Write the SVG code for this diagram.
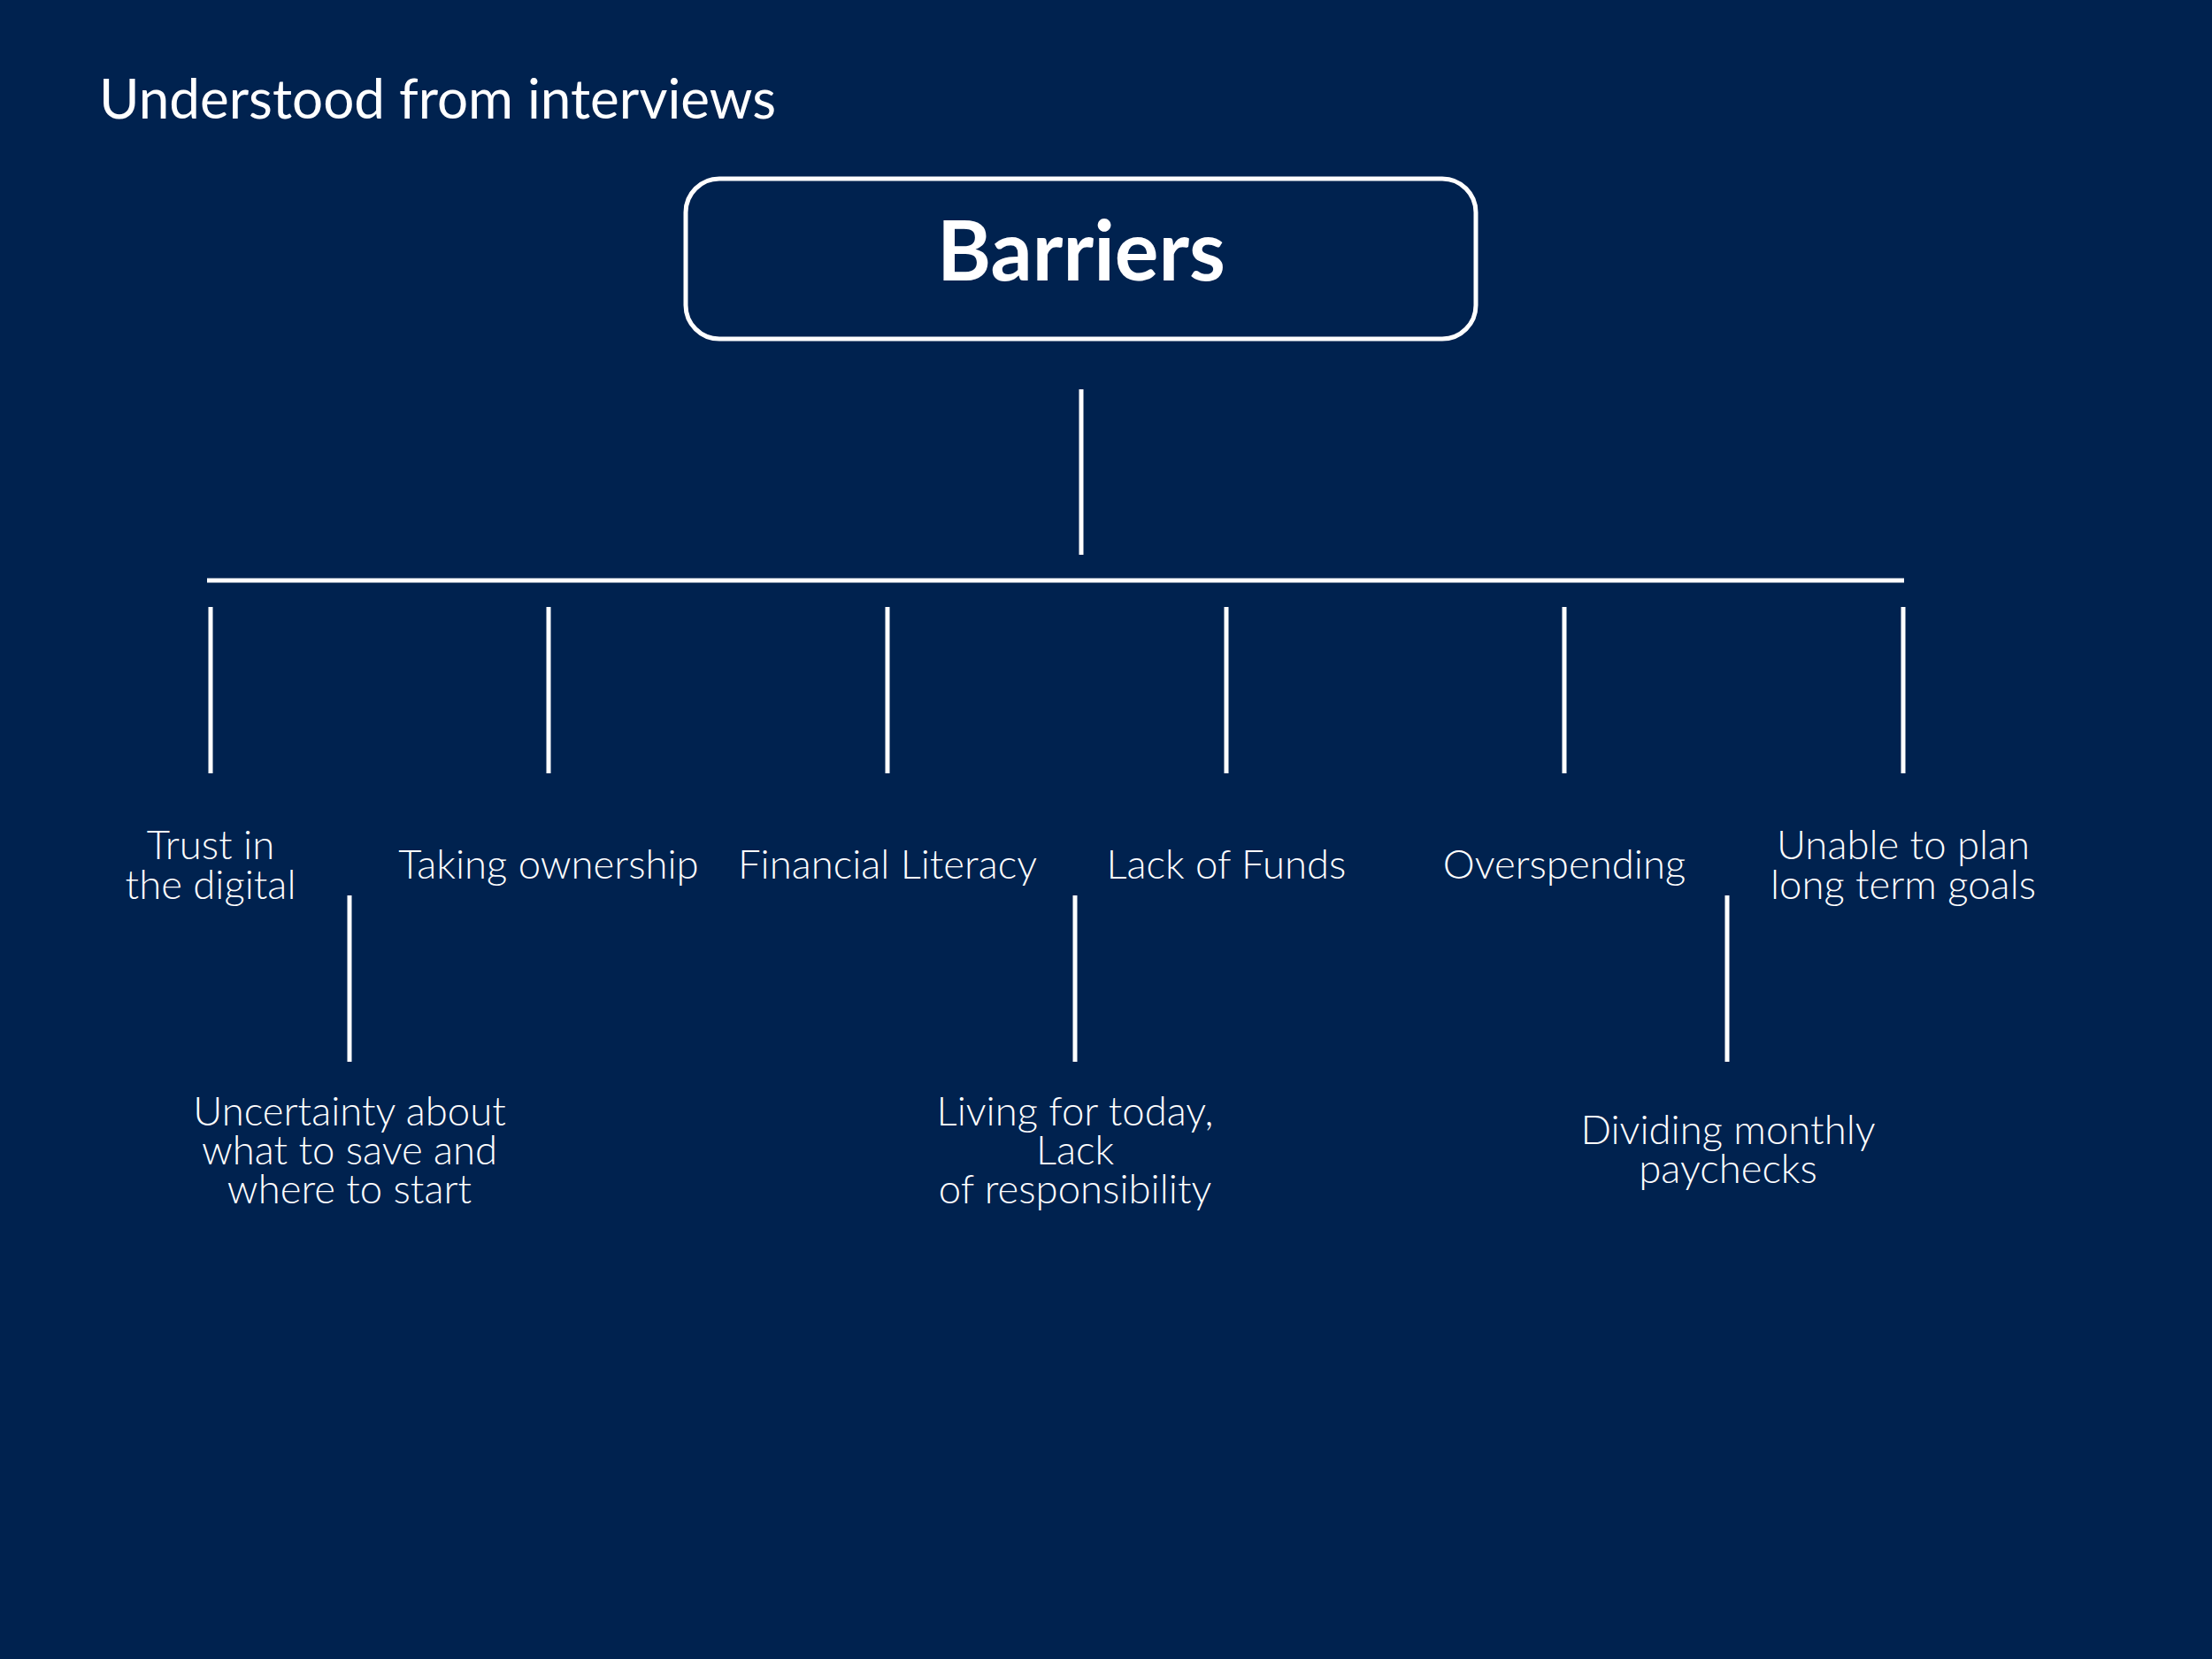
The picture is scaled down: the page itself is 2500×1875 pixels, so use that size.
<svg xmlns="http://www.w3.org/2000/svg" width="2500" height="1875" viewBox="0 0 2500 1875">
<style>
.lbl{font-family:Lato,"Open Sans","Liberation Sans",sans-serif;font-weight:300;font-size:45.5px;fill:#fff;text-anchor:middle}
.ln{stroke:#fff;stroke-width:5;fill:none}
</style>
<rect width="2500" height="1875" fill="#00224F"/>
<text x="112" y="134" font-family="Lato,'Open Sans','Liberation Sans',sans-serif" font-size="62" fill="#fff">Understood from interviews</text>
<g id="barriers">
<rect x="775" y="202" width="893" height="181" rx="38" fill="none" stroke="#fff" stroke-width="5"/>
<text x="1222" y="317" font-family="Lato,'Open Sans','Liberation Sans',sans-serif" font-weight="700" font-size="93" fill="#fff" text-anchor="middle">Barriers</text>
</g>
<g id="connectors" class="ln">
<line x1="1222" y1="440" x2="1222" y2="627"/>
<line x1="234" y1="656" x2="2152" y2="656"/>
<line x1="238" y1="686" x2="238" y2="874"/>
<line x1="620" y1="686" x2="620" y2="874"/>
<line x1="1003" y1="686" x2="1003" y2="874"/>
<line x1="1386" y1="686" x2="1386" y2="874"/>
<line x1="1768" y1="686" x2="1768" y2="874"/>
<line x1="2151" y1="686" x2="2151" y2="874"/>
<line x1="395" y1="1012" x2="395" y2="1200"/>
<line x1="1215" y1="1012" x2="1215" y2="1200"/>
<line x1="1952" y1="1012" x2="1952" y2="1200"/>
</g>
<g id="trust"><text class="lbl" x="238" y="971">Trust in</text><text class="lbl" x="238" y="1016">the digital</text></g>
<g id="ownership"><text class="lbl" x="620" y="993">Taking ownership</text></g>
<g id="literacy"><text class="lbl" x="1003" y="993">Financial Literacy</text></g>
<g id="funds"><text class="lbl" x="1386" y="993">Lack of Funds</text></g>
<g id="overspending"><text class="lbl" x="1768" y="993">Overspending</text></g>
<g id="longterm"><text class="lbl" x="2151" y="971">Unable to plan</text><text class="lbl" x="2151" y="1016">long term goals</text></g>
<g id="uncertainty"><text class="lbl" x="395" y="1272">Uncertainty about</text><text class="lbl" x="395" y="1316">what to save and</text><text class="lbl" x="395" y="1360">where to start</text></g>
<g id="living"><text class="lbl" x="1215" y="1272">Living for today,</text><text class="lbl" x="1215" y="1316">Lack</text><text class="lbl" x="1215" y="1360">of responsibility</text></g>
<g id="dividing"><text class="lbl" x="1953" y="1293">Dividing monthly</text><text class="lbl" x="1953" y="1337">paychecks</text></g>
</svg>
